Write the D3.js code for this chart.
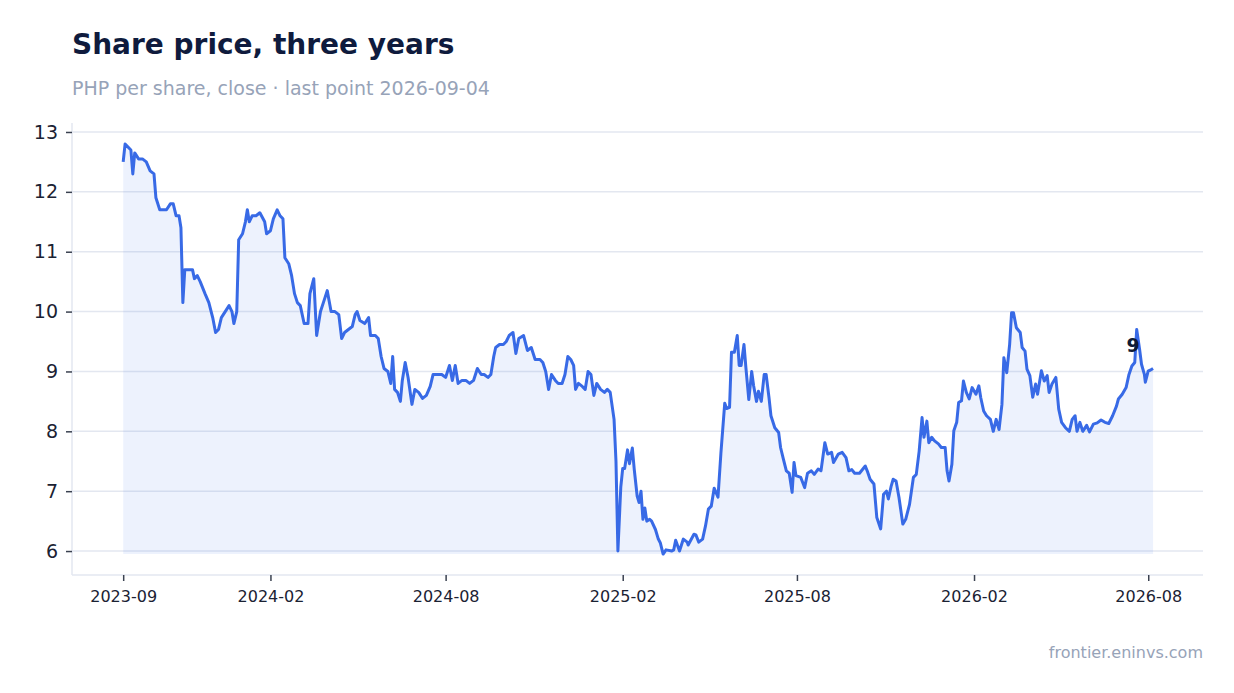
<!DOCTYPE html>
<html>
<head>
<meta charset="utf-8">
<script src="https://cdn.jsdelivr.net/npm/d3@7"></script>
<style>
  body { margin: 0; background: #fff; font-family: "DejaVu Sans", sans-serif; }
</style>
</head>
<body>
<svg class="main-svg" width="1234" height="693"></svg>
<script>
// days after the first close (2023-09-01)
const startDate = new Date(2023, 8, 1)
const dayOffsets = [0, 2, 5, 8, 10, 12, 16, 20, 24, 28, 32, 34, 38, 45, 49, 52, 55, 58, 60, 62, 64, 68, 72, 74, 77, 80, 85, 89, 93, 96, 99, 102, 106, 110, 113, 115, 118, 120, 124, 127, 129, 131, 134, 138, 142, 147, 149, 153, 156, 160, 163, 166, 168, 172, 175, 178, 181, 184, 188, 192, 194, 198, 201, 205, 209, 212, 216, 220, 224, 227, 230, 234, 238, 241, 243, 246, 251, 255, 257, 262, 265, 268, 271, 275, 278, 280, 282, 285, 288, 290, 293, 296, 300, 303, 307, 311, 315, 319, 322, 327, 331, 335, 339, 342, 345, 348, 352, 356, 360, 364, 368, 372, 375, 379, 382, 385, 387, 391, 395, 398, 401, 405, 408, 411, 416, 420, 424, 428, 433, 436, 439, 442, 445, 449, 452, 456, 459, 462, 465, 468, 470, 473, 477, 480, 483, 486, 489, 492, 496, 500, 503, 506, 510, 512,
  514, 517, 519, 521, 524, 526, 529, 531, 534, 536, 538, 540, 542, 544, 547, 549, 553, 556, 558, 561, 564, 570, 572, 574, 578, 582, 586, 587, 593, 595, 598, 602, 605, 608, 611, 614, 618, 621, 625, 627, 630, 632, 635, 638, 640, 642, 645, 647, 650, 653, 655, 658, 660, 663, 666, 668, 671, 673, 677, 681, 683, 686, 689, 692, 695, 697, 699, 704, 708, 711, 715, 718, 722, 725, 729, 732, 736, 738, 743, 747, 751, 754, 757, 760, 765, 771, 773, 776, 780, 783, 787, 790, 793, 795, 798, 800, 803, 806, 810, 813, 817, 821, 824, 827, 830, 832, 835, 837, 840, 843, 847, 850, 854, 856, 858, 861, 863, 866, 868, 871, 873, 876, 879, 882, 886, 889, 891, 894, 897, 901, 904, 907, 910, 913, 915, 918, 921, 923, 925, 928, 932, 934, 937, 939, 942, 945, 948, 950, 954, 957, 960, 962, 965, 969, 972, 975, 979, 983, 986, 989, 991, 994, 997, 1001, 1004, 1008, 1012, 1016, 1020, 1024, 1028, 1032, 1034, 1038, 1042, 1045, 1048, 1051, 1053, 1056, 1058, 1061, 1062, 1065, 1067, 1070]
const closes = [12.5, 12.8, 12.75, 12.7, 12.3, 12.65, 12.55, 12.55, 12.5, 12.35, 12.3, 11.9, 11.7, 11.7, 11.8, 11.8, 11.6, 11.6, 11.4, 10.15, 10.7, 10.7, 10.7, 10.55, 10.6, 10.5, 10.3, 10.15, 9.9, 9.65, 9.7, 9.9, 10.0, 10.1, 10.0, 9.8, 10.0, 11.2, 11.3, 11.5, 11.7, 11.5, 11.6, 11.6, 11.65, 11.5, 11.3, 11.35, 11.55, 11.7, 11.6, 11.55, 10.9, 10.8, 10.6, 10.3, 10.15, 10.1, 9.8, 9.8, 10.3, 10.55, 9.6, 10.0, 10.2, 10.35, 10.0, 10.0, 9.95, 9.55, 9.65, 9.7, 9.75, 9.95, 10.0, 9.85, 9.8, 9.9, 9.6, 9.6, 9.55, 9.25, 9.05, 9.0, 8.8, 9.25, 8.7, 8.65, 8.5, 8.85, 9.15, 8.9, 8.45, 8.7, 8.65, 8.55, 8.6, 8.75, 8.95, 8.95, 8.95, 8.9, 9.1, 8.85, 9.1, 8.8, 8.85, 8.85, 8.8, 8.85, 9.05, 8.95, 8.95, 8.9, 8.95, 9.25, 9.4, 9.45, 9.45, 9.5, 9.6, 9.65, 9.3, 9.55, 9.6, 9.35, 9.4, 9.2, 9.2, 9.15, 9.0, 8.7, 8.95, 8.85, 8.8, 8.8, 8.95, 9.25, 9.2, 9.1, 8.7, 8.8, 8.75, 8.7, 9.0, 8.95, 8.6, 8.8, 8.7, 8.65, 8.7, 8.65, 8.2, 7.5,
  6.0, 7.07, 7.38, 7.38, 7.69, 7.46, 7.72, 7.36, 6.92, 6.81, 7.0, 6.53, 6.72, 6.5, 6.53, 6.5, 6.36, 6.2, 6.14, 5.95, 6.02, 6.0, 6.02, 6.18, 6.0, 6.2, 6.15, 6.1, 6.28, 6.27, 6.15, 6.2, 6.42, 6.7, 6.75, 7.05, 6.9, 7.63, 8.47, 8.38, 8.4, 9.32, 9.32, 9.6, 9.1, 9.1, 9.45, 9.06, 8.53, 9.0, 8.76, 8.5, 8.67, 8.5, 8.95, 8.95, 8.56, 8.26, 8.06, 7.98, 7.73, 7.53, 7.34, 7.3, 6.98, 7.48, 7.26, 7.23, 7.06, 7.3, 7.34, 7.28, 7.37, 7.34, 7.81, 7.62, 7.65, 7.48, 7.62, 7.65, 7.56, 7.34, 7.36, 7.3, 7.3, 7.42, 7.34, 7.2, 7.12, 6.56, 6.37, 6.95, 7.0, 6.87, 7.09, 7.2, 7.17, 6.9, 6.45, 6.53, 6.78, 7.23, 7.28, 7.67, 8.23, 7.9, 8.17, 7.81, 7.9, 7.84, 7.79, 7.73, 7.73, 7.34, 7.17, 7.45, 8.01, 8.15, 8.48, 8.51, 8.84, 8.65, 8.54, 8.73, 8.62, 8.76, 8.56, 8.34, 8.26, 8.2, 8.0, 8.2, 8.03, 8.45, 9.23, 8.98, 9.45, 9.98, 9.98, 9.73, 9.65, 9.4, 9.34, 9.04, 8.93, 8.57, 8.79, 8.62, 9.01, 8.84, 8.93, 8.65, 8.79, 8.9, 8.37, 8.15, 8.06, 8.0, 8.2, 8.26, 8.0, 8.15, 8.0, 8.1, 7.99, 8.12, 8.14, 8.19, 8.15, 8.13, 8.26, 8.42, 8.54, 8.62, 8.73, 8.95, 9.09, 9.15, 9.7, 9.37, 9.12, 8.95, 8.82, 9.01, 9.02, 9.05]
const yTicks = [6, 7, 8, 9, 10, 11, 12, 13]
const xTickDates = ['2023-09', '2024-02', '2024-08', '2025-02', '2025-08', '2026-02', '2026-08']
const lastLabel = '9'

const n = Math.min(dayOffsets.length, closes.length)
const data = dayOffsets.slice(0, n).map((d, i) => ({ date: d3.timeDay.offset(startDate, d), close: closes[i] }))

const svg = d3.select('.main-svg')
const plotLeft = 72
const plotRight = 1203
const plotTop = 123
const plotBottom = 575

// pad the date domain by about 5% on both sides
const extent = d3.extent(data, d => d.date)
const span = extent[1] - extent[0]
const x = d3.scaleTime()
  .domain([new Date(+extent[0] - span * 0.0497), new Date(+extent[1] + span * 0.0485)])
  .range([plotLeft, plotRight])
const y = d3.scaleLinear().domain([5.6, 13.15]).range([plotBottom, plotTop])

// grid
svg.append('g').selectAll('line').data(yTicks).enter().append('line')
  .attr('x1', plotLeft).attr('x2', plotRight)
  .attr('y1', d => y(d)).attr('y2', d => y(d))
  .attr('stroke', '#e3e7f0').attr('stroke-width', 1.5)

// axes
const yAxis = svg.append('g').attr('transform', `translate(${plotLeft},0)`)
  .call(d3.axisLeft(y).tickValues(yTicks).tickSize(6).tickPadding(8).tickFormat(d3.format('d')))
yAxis.select('.domain').attr('stroke', '#e3e7f0').attr('stroke-width', 1.5)
  .attr('d', `M0,${plotTop}V${plotBottom}`)
yAxis.selectAll('.tick line').attr('stroke', '#3a4150').attr('stroke-width', 1.5)
yAxis.selectAll('.tick text').attr('font-size', 19).attr('fill', '#1b2233')
  .attr('font-family', '"DejaVu Sans", sans-serif')

const parse = d3.timeParse('%Y-%m')
const xAxis = svg.append('g').attr('transform', `translate(0,${plotBottom})`)
  .call(d3.axisBottom(x).tickValues(xTickDates.map(parse)).tickSize(6).tickPadding(10).tickFormat(d3.timeFormat('%Y-%m')))
xAxis.select('.domain').attr('stroke', '#e3e7f0').attr('stroke-width', 1.5)
  .attr('d', `M${plotLeft},0H${plotRight}`)
xAxis.selectAll('.tick line').attr('stroke', '#3a4150').attr('stroke-width', 1.5)
xAxis.selectAll('.tick text').attr('font-size', 16).attr('fill', '#1b2233')
  .attr('font-family', '"DejaVu Sans", sans-serif')

// area down to the lowest close, then the line
const minClose = d3.min(data, d => d.close)
svg.append('path').datum(data)
  .attr('d', d3.area().x(d => x(d.date)).y0(y(minClose)).y1(d => y(d.close)))
  .attr('fill', '#3a6be6').attr('fill-opacity', 0.09)

svg.append('path').datum(data)
  .attr('d', d3.line().x(d => x(d.date)).y(d => y(d.close)))
  .attr('fill', 'none').attr('stroke', '#386ae6').attr('stroke-width', 3)
  .attr('stroke-linejoin', 'round')

const last = data[data.length - 1]
svg.append('text')
  .attr('x', x(last.date) - 20).attr('y', y(last.close) - 16)
  .attr('text-anchor', 'middle')
  .attr('font-size', 19).attr('font-weight', 'bold').attr('fill', '#0f1b35')
  .text(lastLabel)

// titles
svg.append('text').attr('x', 72).attr('y', 54)
  .attr('font-size', 28).attr('font-weight', 'bold').attr('fill', '#0f1b3d')
  .text('Share price, three years')
svg.append('text').attr('x', 72).attr('y', 95)
  .attr('font-size', 19).attr('fill', '#97a3b8')
  .text('PHP per share, close · last point 2026-09-04')
svg.append('text').attr('x', 1203).attr('y', 658)
  .attr('text-anchor', 'end')
  .attr('font-size', 16).attr('fill', '#97a3b8')
  .text('frontier.eninvs.com')
</script>
</body>
</html>
